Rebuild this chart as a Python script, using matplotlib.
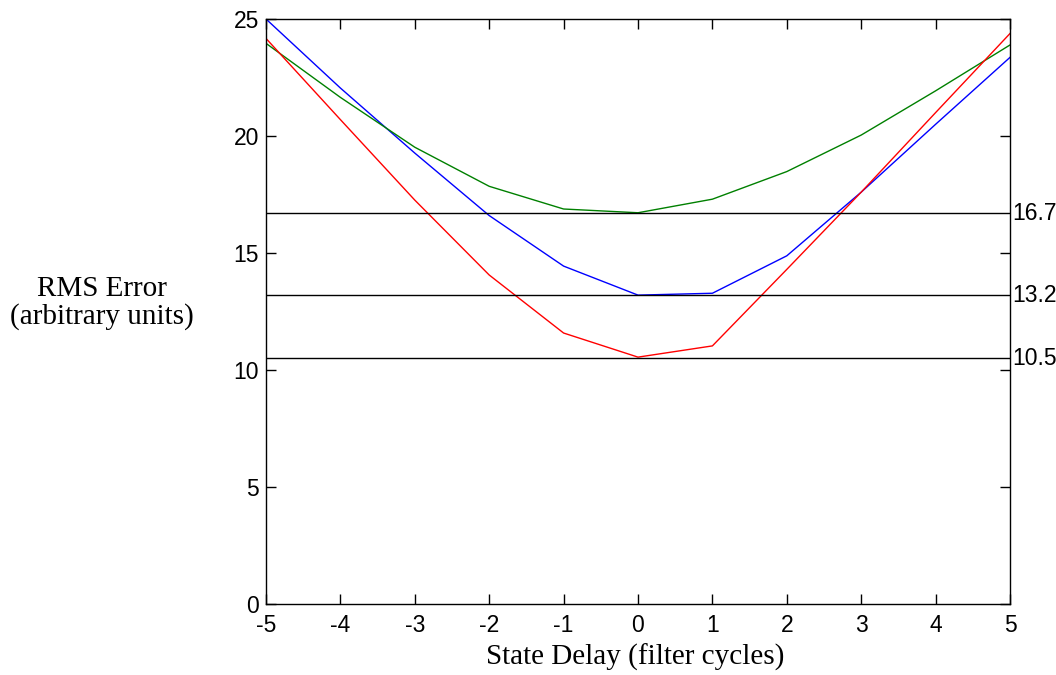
import matplotlib
matplotlib.use("Agg")
import matplotlib.pyplot as plt

plt.rcParams["axes.unicode_minus"] = False

delay = [-5, -4, -3, -2, -1, 0, 1, 2, 3, 4, 5]
blue_rms = [25.0, 22.05, 19.27, 16.6, 14.44, 13.2, 13.28, 14.88, 17.6, 20.5, 23.36]
green_rms = [23.96, 21.65, 19.52, 17.85, 16.88, 16.72, 17.3, 18.48, 20.04, 21.93, 23.89]
red_rms = [24.17, 20.7, 17.26, 14.06, 11.58, 10.55, 11.03, 14.3, 17.6, 21.0, 24.38]
ref_levels = [16.7, 13.2, 10.5]
ref_labels = ["16.7", "13.2", "10.5"]
xticks = [-5, -4, -3, -2, -1, 0, 1, 2, 3, 4, 5]
yticks = [0, 5, 10, 15, 20, 25]

fig = plt.figure(figsize=(10.56, 6.75), dpi=100)
ax = fig.add_axes([266/1056, 1-604/675, (1010-266)/1056, (604-19)/675])

ax.plot(delay, blue_rms, color=(0, 0, 1), lw=1.0)
ax.plot(delay, green_rms, color=(0, 0.5, 0), lw=1.0)
ax.plot(delay, red_rms, color=(1, 0, 0), lw=1.0)
for lv, lb in zip(ref_levels, ref_labels):
    ax.axhline(lv, color="black", lw=1.0)
    ax.text(1.003, lv, lb, transform=ax.get_yaxis_transform(), ha="left", va="center",
            fontsize=16.5, family="Liberation Sans")

ax.set_xlim(-5, 5)
ax.set_ylim(0, 25)
ax.set_xticks(xticks)
ax.set_yticks(yticks)
ax.set_xticklabels([str(v) for v in xticks])
ax.set_yticklabels([str(v) for v in yticks])
ax.tick_params(direction="in", top=True, right=True, length=7, width=1,
               labelsize=16.5)
ax.tick_params(axis="x", pad=7)
ax.tick_params(axis="y", pad=5)
for lab in ax.get_xticklabels() + ax.get_yticklabels():
    lab.set_family("Liberation Sans")
for s in ax.spines.values():
    s.set_linewidth(1.0)

fig.text(635/1056, 1-657/675, "State Delay (filter cycles)", ha="center", va="center",
         family="Liberation Serif", fontsize=21)
fig.text(102/1056, 1-303/675, "RMS Error\n(arbitrary units)", ha="center", va="center",
         family="Liberation Serif", fontsize=21, linespacing=1.1)

fig.savefig("out.png", dpi=100)
